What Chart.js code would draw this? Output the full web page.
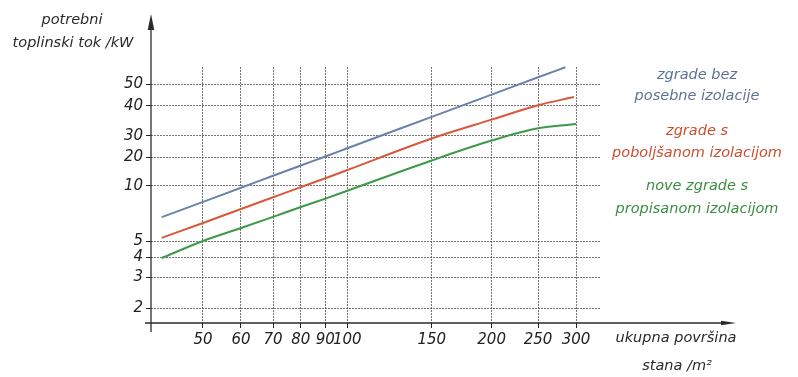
<!DOCTYPE html>
<html>
<head>
<meta charset="utf-8">
<script src="https://cdn.jsdelivr.net/npm/chart.js@4.4.1/dist/chart.umd.min.js"></script>
<style>
  html, body { margin: 0; padding: 0; background: #fff; }
</style>
</head>
<body>
<canvas id="chart" width="798" height="377"></canvas>
<script>
// ukupna površina stana (m²) -> potrebni toplinski tok (kW)
const xTicks = [50, 60, 70, 80, 90, 100, 150, 200, 250, 300];
const yTicks = [2, 3, 4, 5, 10, 20, 30, 40, 50];

const areaBez = [41, 50, 60, 70, 80, 90, 100, 150, 200, 250, 285];
const tokBez = [6.74, 8.17, 9.74, 12.76, 16.43, 20.38, 23.78, 35.93, 44.9, 53.8, 59.7];

const areaPob = [41, 50, 60, 70, 80, 90, 100, 150, 200, 250, 297];
const tokPob = [5.2, 6.27, 7.47, 8.65, 9.82, 12.0, 14.7, 28.5, 35.0, 40.2, 43.8];

const areaNove = [41, 50, 60, 70, 80, 90, 100, 150, 200, 250, 300];
const tokNove = [3.96, 5.0, 5.88, 6.77, 7.66, 8.51, 9.39, 18.6, 27.4, 32.2, 33.6];

const seriesNames = [
    ['zgrade bez', 'posebne izolacije'],
    ['zgrade s', 'poboljšanom izolacijom'],
    ['nove zgrade s', 'propisanom izolacijom']
];
const lineColors = ['#6b80ab', '#d65a3a', '#3d9a48'];
const textColors = ['#5e7298', '#c9502f', '#3a8e42'];

// the printed y axis is not a clean log axis: tick k sits at yTickFrac[k] of the plot height
const yTickFrac = [0.0566, 0.1785, 0.2566, 0.3203, 0.5363, 0.6465, 0.7316, 0.8488, 0.9324];

function warp(v) {
    const lv = Math.log10(v);
    let i = 0;
    while (i < yTicks.length - 2 && lv > Math.log10(yTicks[i + 1])) i++;
    const l0 = Math.log10(yTicks[i]), l1 = Math.log10(yTicks[i + 1]);
    const t = (lv - l0) / (l1 - l0);
    return yTickFrac[i] + t * (yTickFrac[i + 1] - yTickFrac[i]);
}

function unwarp(f) {
    let i = 0;
    while (i < yTickFrac.length - 2 && f > yTickFrac[i + 1]) i++;
    const t = (f - yTickFrac[i]) / (yTickFrac[i + 1] - yTickFrac[i]);
    const l0 = Math.log10(yTicks[i]), l1 = Math.log10(yTicks[i + 1]);
    return Math.pow(10, l0 + t * (l1 - l0));
}

class WarpScale extends Chart.LinearScale {
    getPixelForValue(v) { return this.getPixelForDecimal(warp(v)); }
    getValueForPixel(p) { return unwarp(this.getDecimalForPixel(p)); }
}
WarpScale.id = 'warp';
WarpScale.defaults = {};
Chart.register(WarpScale);

const textFont = 'italic 14.5px "DejaVu Sans"';
const tickFont = { family: '"DejaVu Sans"', size: 15, style: 'italic' };
const gridColor = 'rgba(70,70,70,0.75)';

const decor = {
    id: 'decor',
    afterDraw(chart) {
        const { ctx, chartArea: a } = chart;
        ctx.save();
        ctx.strokeStyle = '#2a2a2a';
        ctx.fillStyle = '#2a2a2a';
        ctx.lineWidth = 1.3;
        // y axis with arrow
        ctx.beginPath();
        ctx.moveTo(a.left, a.bottom + 9);
        ctx.lineTo(a.left, 22);
        ctx.stroke();
        ctx.beginPath();
        ctx.moveTo(a.left, 14);
        ctx.lineTo(a.left - 3.3, 30);
        ctx.lineTo(a.left + 3.3, 30);
        ctx.closePath();
        ctx.fill();
        // x axis with arrow
        ctx.beginPath();
        ctx.moveTo(a.left - 6, a.bottom);
        ctx.lineTo(726, a.bottom);
        ctx.stroke();
        ctx.beginPath();
        ctx.moveTo(736, a.bottom);
        ctx.lineTo(721, a.bottom - 2.3);
        ctx.lineTo(721, a.bottom + 2.3);
        ctx.closePath();
        ctx.fill();

        ctx.font = textFont;
        ctx.textAlign = 'center';
        ctx.textBaseline = 'alphabetic';
        ctx.fillText('potrebni', 72, 24);
        ctx.fillText('toplinski tok /kW', 73, 47);
        ctx.fillText('ukupna površina', 676, 342);
        ctx.fillText('stana /m²', 677, 370);

        const baselines = [[79, 100], [135, 157], [190, 213]];
        seriesNames.forEach((lines, k) => {
            ctx.fillStyle = textColors[k];
            lines.forEach((s, j) => ctx.fillText(s, 697, baselines[k][j]));
        });
        ctx.restore();
    }
};

function points(xs, ys) {
    return xs.map((x, i) => ({ x: x, y: ys[i] }));
}

function renderChart() {
    const ctx = document.getElementById('chart');
    new Chart(ctx, {
        type: 'line',
        data: {
            datasets: [
                { label: seriesNames[0].join(' '), data: points(areaBez, tokBez), borderColor: lineColors[0] },
                { label: seriesNames[1].join(' '), data: points(areaPob, tokPob), borderColor: lineColors[1] },
                { label: seriesNames[2].join(' '), data: points(areaNove, tokNove), borderColor: lineColors[2] }
            ]
        },
        options: {
            responsive: false,
            animation: false,
            events: [],
            layout: { padding: { left: 0, right: 198, top: 67, bottom: 0 } },
            elements: {
                line: { borderWidth: 2, cubicInterpolationMode: 'monotone', fill: false },
                point: { radius: 0 }
            },
            datasets: { line: { clip: false } },
            plugins: {
                legend: { display: false },
                tooltip: { enabled: false }
            },
            scales: {
                x: {
                    type: 'logarithmic',
                    min: 38.95,
                    max: 336.6,
                    afterBuildTicks: s => { s.ticks = xTicks.map(v => ({ value: v })); },
                    afterFit: s => { s.height = 54; },
                    border: { display: false, dash: [2, 1] },
                    grid: { color: gridColor, lineWidth: 1, borderDash: [2, 1], tickLength: 5, tickColor: '#222', tickBorderDash: [] },
                    ticks: { autoSkip: false, maxRotation: 0, padding: 3, color: '#222', font: tickFont, callback: v => String(v) }
                },
                y: {
                    type: 'warp',
                    min: 1,
                    max: 100,
                    afterBuildTicks: s => { s.ticks = yTicks.map(v => ({ value: v })); },
                    afterFit: s => { s.width = 151; },
                    border: { display: false, dash: [2, 1] },
                    grid: { color: gridColor, lineWidth: 1, borderDash: [2, 1], tickLength: 5, tickColor: '#222', tickBorderDash: [] },
                    ticks: { padding: 3, color: '#222', font: tickFont, callback: v => String(v) }
                }
            }
        },
        plugins: [decor]
    });
}

document.addEventListener('DOMContentLoaded', renderChart);
</script>
</body>
</html>
